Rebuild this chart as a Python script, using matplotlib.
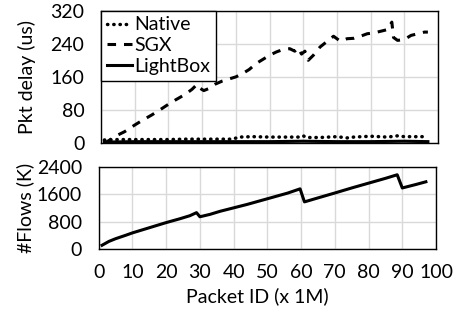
import matplotlib
matplotlib.use("Agg")
import matplotlib.pyplot as plt

plt.rcParams['font.family'] = ['Lato', 'DejaVu Sans']

# ---- data ----
sgx_x = [1, 3, 5, 7, 10, 12, 15, 17, 20, 22, 25, 27, 28.5, 29.5, 30.5, 32, 34, 36, 38, 40,
         42, 44, 46, 48, 50, 52, 54, 56, 57.5, 58.5, 59.5, 60.5, 61.5, 63, 65, 67, 69, 71,
         73, 75, 77, 79, 81, 83, 85, 86.3, 86.8, 88, 90, 92, 94, 96, 97]
sgx_y = [0, 10, 20, 28, 44, 54, 68, 78, 94, 104, 118, 130, 142, 132, 127, 132, 143, 150, 155, 160,
         168, 178, 192, 202, 212, 220, 226, 228, 222, 230, 215, 222, 200, 212, 232, 245, 258, 246,
         252, 253, 258, 264, 266, 270, 274, 292, 255, 248, 250, 260, 264, 268, 268]

native_x = [1, 5, 10, 15, 20, 25, 30, 35, 39, 41, 45, 50, 55, 59, 60, 61, 65, 70, 73, 75,
            80, 85, 88, 90, 95, 97]
native_y = [8, 9, 9, 9, 9, 10, 10, 10, 10, 15, 16, 15, 15, 15, 18, 14, 14, 16, 13, 15,
            17, 15, 18, 16, 16, 16]

lightbox_x = [1, 10, 20, 30, 40, 50, 60, 70, 80, 90, 97]
lightbox_y = [3, 4, 4, 4, 4, 4, 5, 4, 4, 5, 4]

flows_x = [1, 3, 5, 8, 10, 13, 16, 20, 24, 27, 29, 30, 33, 36, 40, 44, 48, 52, 56, 59.7,
           61, 65, 70, 75, 80, 85, 88.5, 90, 94, 97]
flows_y = [110, 220, 300, 400, 470, 560, 650, 770, 880, 970, 1060, 940, 1010, 1100, 1200, 1300,
           1410, 1520, 1630, 1754, 1374, 1490, 1633, 1780, 1920, 2060, 2165, 1780, 1880, 1960]

xticks = [0, 10, 20, 30, 40, 50, 60, 70, 80, 90, 100]
delay_ticks = [0, 80, 160, 240, 320]
flow_ticks = [0, 800, 1600, 2400]

W, H = 465, 312
fig = plt.figure(figsize=(W / 100, H / 100), dpi=100)

ax1 = fig.add_axes([101 / W, 1 - 143.3 / H, (438 - 101) / W, (143.3 - 10.5) / H])
ax2 = fig.add_axes([98.7 / W, 1 - 249 / H, (436 - 98.7) / W, (249 - 166.7) / H])

grid_c = '#d9d9d9'
fs = 14

ax1.plot(native_x, native_y, color='black', lw=2.5, linestyle=(0, (0.1, 1.7)),
         dash_capstyle='round', label='Native')
ax1.plot(sgx_x, sgx_y, color='black', lw=2.2, linestyle=(0, (2.8, 2.6)), label='SGX')
ax1.plot(lightbox_x, lightbox_y, color='black', lw=2.2, label='LightBox')

ax2.plot(flows_x, flows_y, color='black', lw=2.2)

for ax in (ax1, ax2):
    ax.set_xlim(0, 100)
    ax.set_xticks(xticks)
    ax.grid(True, color=grid_c, lw=1)
    ax.set_axisbelow(True)
    for s in ax.spines.values():
        s.set_color('black')
        s.set_linewidth(1)
    ax.tick_params(length=0, labelsize=fs, pad=12)

ax1.set_ylim(0, 320)
ax1.set_yticks(delay_ticks)
ax1.tick_params(axis='x', labelbottom=False)

ax2.set_ylim(0, 2400)
ax2.set_yticks(flow_ticks)
ax2.tick_params(axis='x', pad=11)

leg = ax1.legend(loc='upper left', bbox_to_anchor=(0, 1), borderaxespad=0,
                 fontsize=fs, frameon=True, fancybox=False, framealpha=1,
                 edgecolor='black', handlelength=1.3, handletextpad=0.1,
                 labelspacing=0.2, borderpad=0.3)
leg.get_frame().set_linewidth(1)

fig.text(27 / W, 1 - 77 / H, 'Pkt delay (us)', rotation=90, ha='center', va='center', fontsize=fs)
fig.text(25 / W, 1 - 208 / H, '#Flows (K)', rotation=90, ha='center', va='center', fontsize=fs)
fig.text(257 / W, 1 - 296 / H, 'Packet ID (x 1M)', ha='center', va='center', fontsize=fs)

fig.savefig('out.png', dpi=100)
